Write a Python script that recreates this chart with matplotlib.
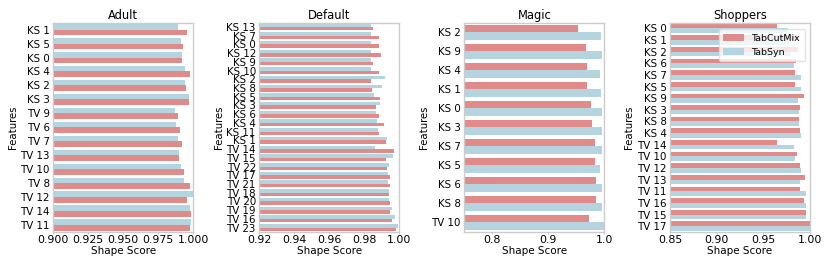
import matplotlib
matplotlib.use("Agg")
import matplotlib.pyplot as plt
import numpy as np

# ---------------- data ----------------
adult_features = ["KS 1", "KS 5", "KS 0", "KS 4", "KS 2", "KS 3", "TV 9", "TV 6", "TV 7",
                  "TV 13", "TV 10", "TV 8", "TV 12", "TV 14", "TV 11"]
adult_tabcutmix = [0.9953, 0.9924, 0.9919, 0.9976, 0.9948, 0.9971, 0.9889, 0.9907, 0.9917,
                   0.9900, 0.9931, 0.9976, 0.9953, 0.9986, 0.9976]
adult_tabsyn = [0.9889, 0.9912, 0.9921, 0.9938, 0.9941, 0.9967, 0.9869, 0.9876, 0.9889,
                0.9896, 0.9910, 0.9934, 1.0000, 0.9974, 0.9981]

default_features = ["KS 13", "KS 7", "KS 0", "KS 12", "KS 9", "KS 10", "KS 2", "KS 8", "KS 5",
                    "KS 3", "KS 6", "KS 4", "KS 11", "KS 1", "TV 14", "TV 15", "TV 22", "TV 17",
                    "TV 21", "TV 18", "TV 20", "TV 19", "TV 16", "TV 23"]
default_tabcutmix = [0.9849, 0.9884, 0.9884, 0.9893, 0.9847, 0.9882, 0.9841, 0.9845, 0.9888,
                     0.9868, 0.9884, 0.9911, 0.9882, 0.9924, 0.9968, 0.9924, 0.9930, 0.9947,
                     0.9949, 0.9941, 0.9949, 0.9947, 0.9957, 0.9982]
default_tabsyn = [0.9836, 0.9836, 0.9838, 0.9838, 0.9838, 0.9840, 0.9918, 0.9903, 0.9853,
                  0.9889, 0.9868, 0.9872, 0.9876, 0.9932, 0.9863, 0.9964, 0.9943, 0.9934,
                  0.9937, 0.9941, 0.9943, 0.9959, 0.9978, 0.9991]

magic_features = ["KS 2", "KS 9", "KS 4", "KS 1", "KS 0", "KS 3", "KS 7", "KS 5", "KS 6",
                  "KS 8", "TV 10"]
magic_tabcutmix = [0.9523, 0.9678, 0.9684, 0.9684, 0.9768, 0.9774, 0.9827, 0.9839, 0.9845,
                   0.9857, 0.9727]
magic_tabsyn = [0.9947, 0.9953, 0.9930, 0.9935, 0.9965, 0.9953, 0.9965, 0.9924, 0.9959,
                0.9959, 0.9995]

shoppers_features = ["KS 0", "KS 1", "KS 2", "KS 6", "KS 7", "KS 5", "KS 9", "KS 3", "KS 8",
                     "KS 4", "TV 14", "TV 10", "TV 12", "TV 13", "TV 11", "TV 16", "TV 15", "TV 17"]
shoppers_tabcutmix = [0.9649, 0.9864, 0.9870, 0.9853, 0.9836, 0.9836, 0.9932, 0.9893, 0.9886,
                      0.9890, 0.9649, 0.9857, 0.9893, 0.9946, 0.9897, 0.9936, 0.9954, 1.0000]
shoppers_tabsyn = [0.9760, 0.9780, 0.9800, 0.9825, 0.9903, 0.9903, 0.9868, 0.9879, 0.9882,
                   0.9907, 0.9832, 0.9839, 0.9907, 0.9893, 0.9957, 0.9957, 0.9954, 1.0000]

RED = "#E18A8A"
BLUE = "#B4D4DF"

panels = [
    ("Adult", adult_features, adult_tabcutmix, adult_tabsyn, (0.9, 1.0),
     [0.9, 0.925, 0.95, 0.975, 1.0], "{:.3f}", False),
    ("Default", default_features, default_tabcutmix, default_tabsyn, (0.92, 1.0),
     [0.92, 0.94, 0.96, 0.98, 1.0], "{:.2f}", False),
    ("Magic", magic_features, magic_tabcutmix, magic_tabsyn, (0.75, 1.0),
     [0.8, 0.9, 1.0], "{:.1f}", True),
    ("Shoppers", shoppers_features, shoppers_tabcutmix, shoppers_tabsyn, (0.85, 1.0),
     [0.85, 0.9, 0.95, 1.0], "{:.2f}", True),
]

fig = plt.figure(figsize=(8.3, 2.66), dpi=100)
lefts = [0.0642, 0.3124, 0.5594, 0.8072]
W = 0.1687
B = 0.128
H = 0.915 - 0.128

for i, (title, feats, cut, syn, xlim, ticks, fmt, red_first) in enumerate(panels):
    ax = fig.add_axes([lefts[i], B, W, H])
    y = np.arange(len(feats))
    bw = 0.4
    if red_first:
        y_red, y_blue = y - bw / 2, y + bw / 2
    else:
        y_blue, y_red = y - bw / 2, y + bw / 2
    ax.barh(y_red, cut, height=bw, color=RED, label="TabCutMix")
    ax.barh(y_blue, syn, height=bw, color=BLUE, label="TabSyn")
    ax.set_xlim(*xlim)
    ax.set_ylim(len(feats) - 0.5, -0.5)
    ax.set_yticks(y)
    ax.set_yticklabels(feats)
    ax.set_xticks(ticks)
    ax.set_xticklabels([fmt.format(t) for t in ticks])
    ax.tick_params(axis="x", labelsize=7.9, length=1.5, width=0.6, color="#bbbbbb", pad=0.8)
    ax.tick_params(axis="y", labelsize=7.4, length=0, pad=2.5)
    for s in ax.spines.values():
        s.set_color("#cccccc")
        s.set_linewidth(1.0)
    ax.set_title(title, fontsize=8.3, pad=2.5)
    ax.set_xlabel("Shape Score", fontsize=7.5, labelpad=0.8)
    ax.set_ylabel("Features", fontsize=7.3, labelpad=2)
    if title == "Shoppers":
        ax.legend(loc="upper right", fontsize=6.8, framealpha=0.8, edgecolor="#dddddd",
                  handlelength=2.2, borderpad=0.45, labelspacing=0.55,
                  bbox_to_anchor=(0.995, 0.99))

fig.savefig("out.png", dpi=100)
